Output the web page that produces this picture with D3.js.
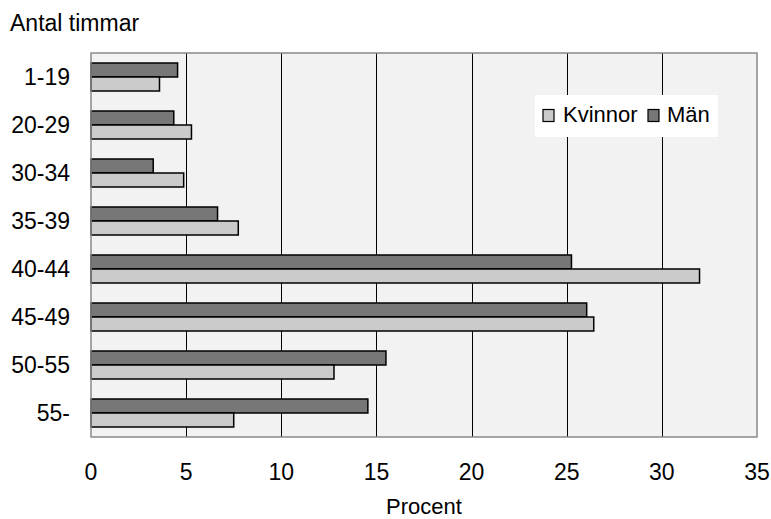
<!DOCTYPE html>
<html><head><meta charset="utf-8">
<script src="https://cdn.jsdelivr.net/npm/d3@7"></script>
<style>body{margin:0;background:#fff;} text{font-family:"Liberation Sans",Arial,sans-serif;fill:#000;}</style>
</head><body>
<svg id="c" width="771" height="519"></svg>
<script>
const categories = ["1-19","20-29","30-34","35-39","40-44","45-49","50-55","55-"];
const man = [4.55, 4.35, 3.27, 6.65, 25.25, 26.05, 15.5, 14.55];
const kvinnor = [3.6, 5.28, 4.87, 7.74, 31.98, 26.42, 12.77, 7.5];
const xTicks = [0,5,10,15,20,25,30,35];
const seriesNames = ["Kvinnor","Män"];

const svg = d3.select("#c");
const L=91, R=757, T=53, B=437;
const x = d3.scaleLinear().domain([0,35]).range([L,R]);
const y = d3.scaleBand().domain(categories).range([T,B]);
const sub = d3.scaleBand().domain(["man","kv"]).range([0,28]);

svg.append("rect").attr("x",L).attr("y",T).attr("width",R-L).attr("height",B-T).attr("fill","#f2f2f2");
svg.append("g").selectAll("line").data(xTicks.slice(1,-1)).join("line")
  .attr("x1",d=>Math.round(x(d))+0.5).attr("x2",d=>Math.round(x(d))+0.5).attr("y1",T).attr("y2",B)
  .attr("stroke","#000").attr("stroke-width",1);

const off = (y.bandwidth()-28)/2;
const g = svg.append("g");
g.selectAll("rect.m").data(categories).join("rect").attr("class","m")
  .attr("x",x(0)).attr("y",(d)=>y(d)+off+sub("man"))
  .attr("width",(d,i)=>x(man[i])-x(0)).attr("height",sub.bandwidth())
  .attr("fill","#777").attr("stroke","#000").attr("stroke-width",1.5);
g.selectAll("rect.k").data(categories).join("rect").attr("class","k")
  .attr("x",x(0)).attr("y",(d)=>y(d)+off+sub("kv"))
  .attr("width",(d,i)=>x(kvinnor[i])-x(0)).attr("height",sub.bandwidth())
  .attr("fill","#cbcbcb").attr("stroke","#000").attr("stroke-width",1.5);

svg.append("rect").attr("x",L).attr("y",T).attr("width",R-L).attr("height",B-T)
  .attr("fill","none").attr("stroke","#8a8a8a").attr("stroke-width",1.5);

// axes labels
svg.append("g").selectAll("text").data(categories).join("text")
  .attr("x",70).attr("y",d=>y(d)+y.bandwidth()/2+8)
  .attr("text-anchor","end").attr("font-size",23).text(d=>d);
svg.append("g").selectAll("text").data(xTicks).join("text")
  .attr("x",d=>x(d)).attr("y",480)
  .attr("text-anchor","middle").attr("font-size",23).text(d=>d);
svg.append("text").attr("x",424).attr("y",514)
  .attr("text-anchor","middle").attr("font-size",22).text("Procent");
svg.append("text").attr("x",10).attr("y",31)
  .attr("font-size",23).text("Antal timmar");

// legend
const lg = svg.append("g");
lg.append("rect").attr("x",535).attr("y",95).attr("width",183).attr("height",42).attr("fill","#fff");
const lx = [543, 648], tx = [563, 667], cols = ["#cbcbcb","#777"];
seriesNames.forEach((n,i)=>{
  lg.append("rect").attr("x",lx[i]).attr("y",109.5).attr("width",11).attr("height",12)
    .attr("fill",cols[i]).attr("stroke","#000").attr("stroke-width",1.2);
  lg.append("text").attr("x",tx[i]).attr("y",122)
    .attr("font-size",22).text(n);
});
</script>
</body></html>
